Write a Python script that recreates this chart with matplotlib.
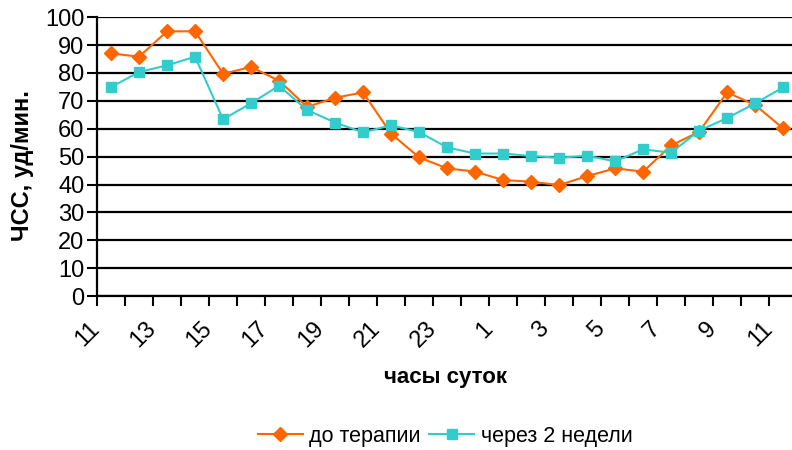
import matplotlib.pyplot as plt
import matplotlib.transforms as mtransforms
import numpy as np

plt.rcParams['font.family'] = ['Liberation Sans', 'DejaVu Sans']

# hours of the day, 11:00 through to 11:00 next day
hours = list(range(11, 24)) + list(range(0, 12))
before = [87.0, 85.8, 94.9, 94.9, 79.7, 82.1, 77.2, 67.8, 71.1, 73.0, 58.2,
          49.7, 45.8, 44.6, 41.6, 41.0, 39.8, 43.0, 45.8, 44.6, 54.0, 58.9,
          73.0, 68.5, 60.1]
after = [74.9, 80.3, 82.7, 85.8, 63.4, 69.1, 75.4, 66.7, 62.2, 58.7, 61.2,
         58.8, 53.3, 51.1, 51.1, 50.2, 49.6, 50.3, 48.3, 52.6, 51.4, 59.3,
         63.8, 69.1, 74.8]
tick_labels = [str(h) for h in hours[::2]]

fig = plt.figure(figsize=(7.92, 4.5), dpi=100)
ax = fig.add_axes([0.1225, 0.342, 0.884, 0.62])

x = np.arange(len(hours)) + 0.5
ax.plot(x, before, color='#FF6600', marker='D', markersize=7, lw=1.5,
        label='до терапии', zorder=3)
ax.plot(x, after, color='#33CCCC', marker='s', markersize=6.5, lw=1.5,
        label='через 2 недели', zorder=3)

ax.set_xlim(0, len(hours))
ax.set_ylim(0, 100)
ax.set_yticks(np.arange(0, 101, 10))
ax.set_xticks(np.arange(0, len(hours) + 1), minor=True)
ax.set_xticks(np.arange(0, len(hours), 2))
ax.set_xticklabels(tick_labels, rotation=45, ha='right', va='top',
                   rotation_mode='anchor')
ax.tick_params(axis='x', which='both', length=7, width=1.5, direction='out')
ax.tick_params(axis='y', length=7, width=1.5, direction='out', pad=2)
ax.tick_params(labelsize=17)

# push the slanted hour labels a little down and to the left
shift = mtransforms.ScaledTranslation(-0.08, -0.07, fig.dpi_scale_trans)
for lbl in ax.get_xticklabels():
    lbl.set_transform(lbl.get_transform() + shift)

ax.grid(True, axis='y', color='black', lw=1.6)
ax.set_axisbelow(True)
for side in ['top', 'right']:
    ax.spines[side].set_visible(False)
ax.spines['left'].set_linewidth(1.6)
ax.spines['bottom'].set_linewidth(1.6)

fig.text(0.028, 0.633, 'ЧСС, уд/мин.', rotation=90, ha='center', va='center',
         fontsize=17, fontweight='bold')
fig.text(0.563, 0.16, 'часы суток', ha='center', va='center',
         fontsize=16, fontweight='bold')

fig.legend(loc='center', bbox_to_anchor=(0.562, 0.03), ncol=2, frameon=False,
           fontsize=15.5, handlelength=2.1, columnspacing=0.4,
           handletextpad=0.3)

fig.savefig('out.png', dpi=100)
